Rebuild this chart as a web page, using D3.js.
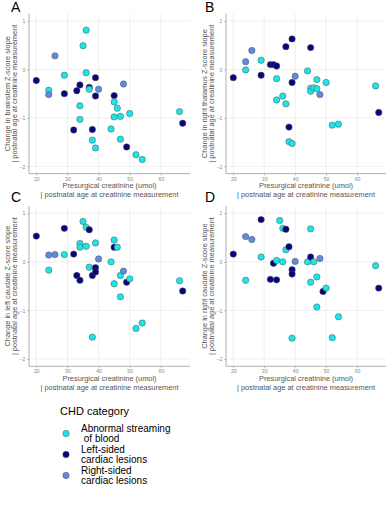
<!DOCTYPE html>
<html>
<head>
<meta charset="utf-8">
<script src="https://cdn.jsdelivr.net/npm/d3@7"></script>
<style>
  html, body { margin: 0; padding: 0; background: #fff; }
  svg { display: block; font-family: "Liberation Sans", Arial, sans-serif; }
  text { white-space: pre; }
</style>
</head>
<body>
<svg id="chart" width="391" height="512"></svg>
<script>
// ---- data ----
// group codes: S = Abnormal streaming of blood, L = Left-sided, R = Right-sided
const xTicks = [20, 30, 40, 50, 60];
const yTicks = [1, 0, -1, -2];
const categories = ["S", "L", "R"];
const categoryLabels = [["Abnormal streaming", " of blood"], ["Left-sided", "cardiac lesions"], ["Right-sided", "cardiac lesions"]];
const categoryColors = ["#19E6E6", "#05057E", "#5E8BE0"];

const creatA = [20, 24, 24, 26, 29, 29, 32, 33, 34, 34, 34, 35, 36, 36, 37, 37, 38, 38, 39, 39, 39, 40, 44, 45, 45, 45, 46, 47, 47, 48, 49, 50, 52, 54, 66, 67];
const slopeA = [-0.23, -0.43, -0.52, 0.28, -0.12, -0.50, -1.25, -0.44, -0.32, -0.75, -1.03, 0.49, 0.81, -0.07, -0.37, -0.41, -1.24, -1.46, -0.17, -0.55, -1.62, -0.41, -1.23, -0.54, -0.67, -0.98, -0.80, -0.97, -1.44, -0.30, -1.60, -0.91, -1.76, -1.86, -0.87, -1.11];
const groupA = ["L","S","R","R","S","L","L","L","L","S","S","S","S","S","L","S","L","S","L","L","S","R","S","L","S","S","S","S","S","R","L","S","S","S","S","L"];

const creatB = [20, 24, 24, 26, 29, 29, 32, 33, 34, 34, 34, 36, 37, 37, 38, 38, 39, 39, 39, 40, 44, 45, 45, 45, 46, 47, 47, 48, 50, 52, 54, 66, 67];
const slopeB = [-0.17, 0.16, -0.01, 0.39, 0.19, -0.12, 0.10, 0.10, 0.07, -0.19, -0.63, -0.55, -0.71, 0.47, -1.19, -1.49, -1.53, 0.63, -0.27, -0.14, -0.03, 0.45, -0.39, -0.45, -0.38, -0.40, -0.21, -0.52, -0.27, -1.15, -1.13, -0.34, -0.89];
const groupB = ["L","R","S","R","S","L","L","L","L","S","S","S","S","L","L","S","S","L","L","R","S","L","S","S","S","S","S","R","S","S","S","S","L"];

const creatC = [20, 24, 24, 26, 29, 29, 32, 33, 34, 34, 34, 35, 36, 36, 37, 37, 38, 38, 39, 39, 39, 40, 44, 45, 45, 45, 46, 47, 47, 48, 49, 50, 52, 54, 66, 67];
const slopeC = [0.53, 0.14, -0.17, 0.15, 0.15, 0.69, 0.16, -0.28, -0.38, 0.38, 0.30, 0.83, 0.71, 0.32, 0.66, -0.11, -0.28, -1.55, -0.12, -0.21, 0.39, 0.06, 0.0, 0.30, 0.45, -0.45, 0.30, -0.28, -0.72, -0.19, -0.42, -0.35, -1.37, -1.26, -0.39, -0.60];
const groupC = ["L","R","S","R","S","L","L","L","L","S","S","S","S","S","L","S","L","S","L","L","S","R","S","L","S","S","S","S","S","R","L","S","S","S","S","L"];

const creatD = [20, 24, 24, 26, 29, 29, 32, 33, 34, 34, 35, 36, 36, 37, 37, 38, 39, 39, 39, 40, 44, 45, 45, 45, 46, 47, 47, 48, 49, 50, 52, 54, 66, 67];
const slopeD = [0.16, 0.52, -0.38, 0.46, 0.10, 0.87, -0.36, -0.03, -0.37, 0.03, 0.85, 0.69, 0.0, 0.67, 0.25, 0.31, -1.57, -0.16, -0.25, 0.01, 0.0, 0.10, 0.68, -0.42, 0.0, -0.31, -0.93, 0.07, -0.61, -0.54, -1.56, -1.13, -0.08, -0.54];
const groupD = ["L","R","S","R","S","L","L","L","L","S","S","S","S","L","S","L","S","L","L","R","S","L","S","S","S","S","S","R","L","S","S","S","S","L"];

const panelLabels = ["A", "B", "C", "D"];
const yTitles = [
  "Change in brainstem Z-score slope",
  "Change in right thalamus Z-score slope",
  "Change in left caudate Z-score slope",
  "Change in right caudate Z-score slope"
];
const yTitle2 = "| postnatal age at creatinine measurement";
const xTitle1 = "Presurgical creatinine (umol)";
const xTitle2 = "| postnatal age at creatinine measurement";
const legendTitle = "CHD category";

// ---- drawing ----
const svg = d3.select("#chart");
svg.append("rect").attr("width", 391).attr("height", 512).attr("fill", "#fff");

const color = d3.scaleOrdinal().domain(categories).range(categoryColors);
const xDomain = [17.65, 69.35];
const yDomain = [-2.15, 1.15];

const panels = [
  {x: creatA, y: slopeA, g: groupA, left: 29, right: 190, top: 13.7, bottom: 173.6, lx: 11, ly: 12},
  {x: creatB, y: slopeB, g: groupB, left: 226, right: 386, top: 13.7, bottom: 173.6, lx: 205, ly: 12},
  {x: creatC, y: slopeC, g: groupC, left: 29, right: 190, top: 206, bottom: 366.3, lx: 11, ly: 202},
  {x: creatD, y: slopeD, g: groupD, left: 226, right: 386, top: 206, bottom: 366.3, lx: 205, ly: 202}
];

panels.forEach((p, i) => {
  const xs = d3.scaleLinear().domain(xDomain).range([p.left, p.right]);
  const ys = d3.scaleLinear().domain(yDomain).range([p.bottom, p.top]);
  const g = svg.append("g");

  // gridlines
  g.selectAll(".gx").data(xTicks).join("line")
    .attr("x1", d => xs(d)).attr("x2", d => xs(d))
    .attr("y1", p.top).attr("y2", p.bottom)
    .attr("stroke", "#ebebeb").attr("stroke-width", 0.8);
  g.selectAll(".gy").data(yTicks).join("line")
    .attr("x1", p.left).attr("x2", p.right)
    .attr("y1", d => ys(d)).attr("y2", d => ys(d))
    .attr("stroke", "#ebebeb").attr("stroke-width", 0.8);

  // axes
  const fmt = d3.format("d");
  const xAxis = d3.axisBottom(xs).tickValues(xTicks).tickFormat(fmt).tickSize(2).tickPadding(1.5);
  const yAxis = d3.axisLeft(ys).tickValues(yTicks).tickFormat(fmt).tickSize(2).tickPadding(1.5);
  const gx = g.append("g").attr("transform", `translate(0,${p.bottom})`).call(xAxis);
  const gy = g.append("g").attr("transform", `translate(${p.left},0)`).call(yAxis);
  [gx, gy].forEach(a => {
    a.select(".domain").attr("stroke", "#9a9a9a").attr("stroke-width", 0.8);
    a.selectAll(".tick line").attr("stroke", "#9a9a9a").attr("stroke-width", 0.6);
    a.selectAll(".tick text").attr("fill", "#8a8a8a").attr("font-size", 5.2)
      .attr("font-family", "Liberation Sans, Arial, sans-serif");
  });
  gx.select(".domain").attr("d", `M${p.left},0H${p.right}`);
  gy.select(".domain").attr("d", `M0,${p.top}V${p.bottom}`);

  // points
  g.selectAll("circle.pt").data(p.x.map((v, k) => ({x: v, y: p.y[k], g: p.g[k]})))
    .join("circle").attr("class", "pt")
    .attr("cx", d => xs(d.x)).attr("cy", d => ys(d.y)).attr("r", 3.2)
    .attr("fill", d => color(d.g)).attr("stroke", "#555").attr("stroke-width", 0.5);

  // panel label
  svg.append("text").attr("x", p.lx).attr("y", p.ly).attr("font-size", 14)
    .attr("fill", "#000").text(panelLabels[i]);

  // axis titles
  const cx = (p.left + p.right) / 2;
  svg.append("text").attr("x", cx).attr("y", p.bottom + 14.5).attr("text-anchor", "middle")
    .attr("font-size", 7.4).attr("fill", "#555").text(xTitle1);
  svg.append("text").attr("x", cx).attr("y", p.bottom + 23.5).attr("text-anchor", "middle")
    .attr("font-size", 7.4).attr("fill", "#555").text(xTitle2);
  const cy = (p.top + p.bottom) / 2;
  const tx = p.left - 29;
  svg.append("text").attr("transform", `translate(${tx + 9.5},${cy}) rotate(-90)`)
    .attr("text-anchor", "middle").attr("font-size", 7.4).attr("fill", "#555").text(yTitles[i]);
  svg.append("text").attr("transform", `translate(${tx + 17},${cy}) rotate(-90)`)
    .attr("text-anchor", "middle").attr("font-size", 7.4).attr("fill", "#555").text(yTitle2);
});

// legend
const lg = svg.append("g");
lg.append("text").attr("x", 60).attr("y", 415).attr("font-size", 11).attr("fill", "#000").text(legendTitle);
const itemY = [433.5, 454.5, 475.5];
categories.forEach((c, k) => {
  lg.append("circle").attr("cx", 66).attr("cy", itemY[k]).attr("r", 3.2)
    .attr("fill", color(c)).attr("stroke", "#555").attr("stroke-width", 0.5);
  categoryLabels[k].forEach((line, j) => {
    lg.append("text").attr("x", 81).attr("y", itemY[k] - 1.8 + j * 10.6)
      .attr("font-size", 10).attr("fill", "#000").text(line);
  });
});
</script>
</body>
</html>
